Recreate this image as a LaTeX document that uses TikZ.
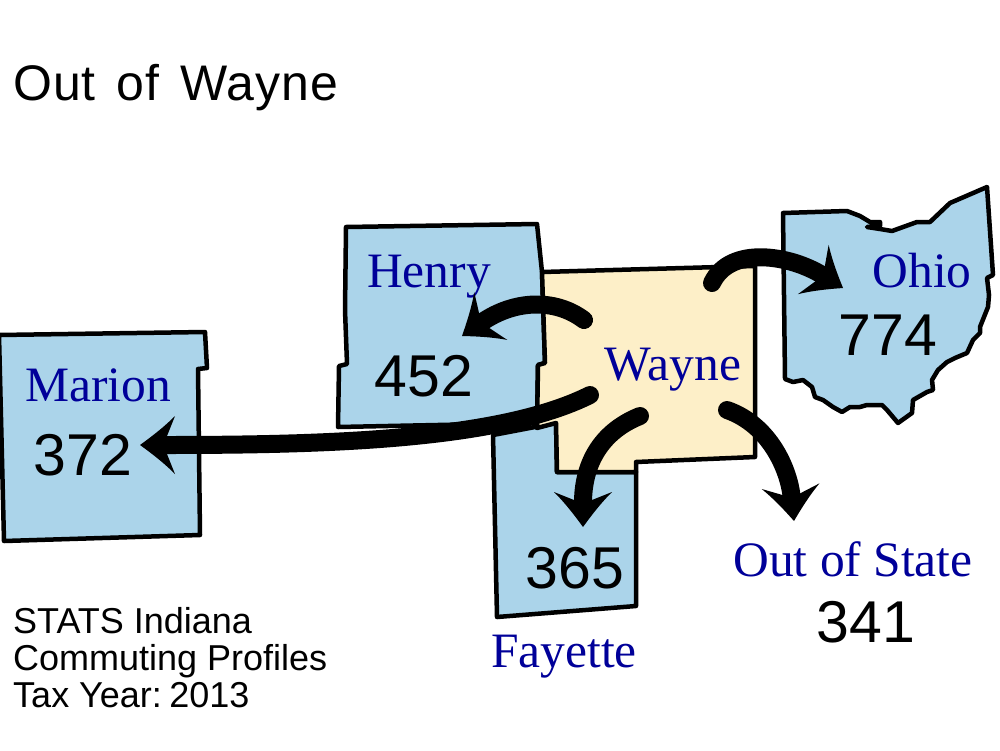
\documentclass[tikz,border=0pt]{standalone}
\usepackage{fontspec}
\setmainfont{Liberation Serif}
\setsansfont{Liberation Sans}
\usepackage{xcolor}
\usetikzlibrary{arrows.meta}
\definecolor{areablue}{HTML}{ABD4EA}
\definecolor{areacream}{HTML}{FDEFC8}
\definecolor{labelblue}{HTML}{000099}
\pgfdeclarearrow{
  name=Swept,
  setup code={
    \pgfarrowssettipend{0pt}
    \pgfarrowssetlineend{-24pt}
    \pgfarrowssetvisualbackend{-27pt}
    \pgfarrowssetbackend{-35pt}
  },
  drawing code={
    \pgfpathmoveto{\pgfpoint{0pt}{0pt}}
    \pgfpathcurveto{\pgfpoint{-11pt}{8pt}}{\pgfpoint{-23pt}{17pt}}{\pgfpoint{-35pt}{29pt}}
    \pgfpathlineto{\pgfpoint{-27pt}{9pt}}
    \pgfpathlineto{\pgfpoint{-27pt}{-9pt}}
    \pgfpathlineto{\pgfpoint{-35pt}{-29pt}}
    \pgfpathcurveto{\pgfpoint{-23pt}{-17pt}}{\pgfpoint{-11pt}{-8pt}}{\pgfpoint{0pt}{0pt}}
    \pgfpathclose
    \pgfusepathqfill
  }
}
\tikzset{
  area/.style={draw, line width=4.5pt, line join=round, fill=areablue},
  areaname/.style={text=labelblue, font=\rmfamily\fontsize{49.5}{49.5}\selectfont, inner sep=0pt},
  areacount/.style={text=black, font=\sffamily\fontsize{59}{59}\selectfont, inner sep=0pt},
  flow/.style={draw, line width=18pt, line cap=round, -Swept}
}
\begin{document}
\begin{tikzpicture}[x=1pt, y=-1pt]
  \useasboundingbox (0,0) rectangle (1000,750);
  % areas
  \draw [area] (346,227)--(537,224)--(542,272)--(545,363)--(538,365)--(537,423)--(338,427)--(339,366)--(347,364)--(345,310)--cycle;
  \draw [area] (-1,335)--(205,332)--(207,368)--(198,369)--(200,535)--(4,541)--cycle;
  \draw [area] (493,435)--(556,423)--(557,472)--(636,472)--(636,606)--(497,617)--cycle;
  \draw [area, fill=areacream] (542,272)--(755,266)--(755,457)--(636,462)--(636,472)--(557,472)--(556,423)--(537,428)--(538,365)--(545,363)--cycle;
  \draw [area] (783,213)--(847,211)--(860,216)--(870,222)--(880,222)--(880,226)--(867,227)--(880,229)--(892,231)--(917,222)--(930,222)--(950,203)--(987,187)--(993,275)--(987,278)--(989,295)--(988,307)--(980,327)--(980,333)--(973,340)--(967,353)--(955,358)--(947,362)--(938,370)--(932,380)--(933,390)--(927,392)--(913,400)--(912,413)--(898,423)--(887,410)--(882,405)--(867,405)--(860,407)--(850,407)--(842,412)--(833,407)--(823,400)--(815,397)--(812,387)--(803,380)--(793,382)--(785,379)--cycle;
  % labels
  \node [areaname] (henry) at (429,277) {Henry};
  \node [areaname] (marion) at (98,385) {Marion};
  \node [areaname] (wayne) at (673,370) {W\kern-4pt ayne};
  \node [areaname] (ohio) at (922,271) {Ohio};
  \node [areaname] (fayette) at (564,657) {Fayette};
  \node [areaname] (outstate) at (853,559) {Out of State};
  \node [areacount] (n452) at (424,376) {452};
  \node [areacount] (n372) at (83,455) {372};
  \node [areacount] (n365) at (575,568) {365};
  \node [areacount] (n774) at (888,335) {774};
  \node [areacount] (n341) at (866,622) {341};
  % ends of the arrows
  \coordinate (fromhenry) at (584,320);
  \coordinate (tohenry) at (462,336);
  \coordinate (frommarion) at (590,395);
  \coordinate (tomarion) at (140,445);
  \coordinate (fromfayette) at (640,416);
  \coordinate (tofayette) at (583,527);
  \coordinate (fromout) at (727,410);
  \coordinate (toout) at (794,521);
  \coordinate (fromohio) at (712,283);
  \coordinate (toohio) at (843,288);
  \draw [flow] (fromhenry) .. controls (555,298) and (514,300) .. (tohenry);
  \draw [flow] (frommarion) .. controls (500,440) and (330,445) .. (tomarion);
  \draw [flow] (fromfayette) .. controls (600,432) and (583,465) .. (tofayette);
  \draw [flow] (fromout) .. controls (770,425) and (789,470) .. (toout);
  \draw [flow] (fromohio) .. controls (730,245) and (790,255) .. (toohio);
  % text
  \node [anchor=west, inner sep=0pt, font=\sffamily\fontsize{50}{50}\selectfont\addfontfeatures{LetterSpace=2}] (title) at (13,88) {Out\hspace{6pt} of\hspace{6pt} Wayne};
  \node [anchor=north west, inner sep=0pt, align=left, font=\sffamily\fontsize{36}{37}\selectfont] (source) at (13,607) {STATS Indiana\\Commuting Profiles\\Tax Year:\hspace{-6pt} 2013};
\end{tikzpicture}
\end{document}
